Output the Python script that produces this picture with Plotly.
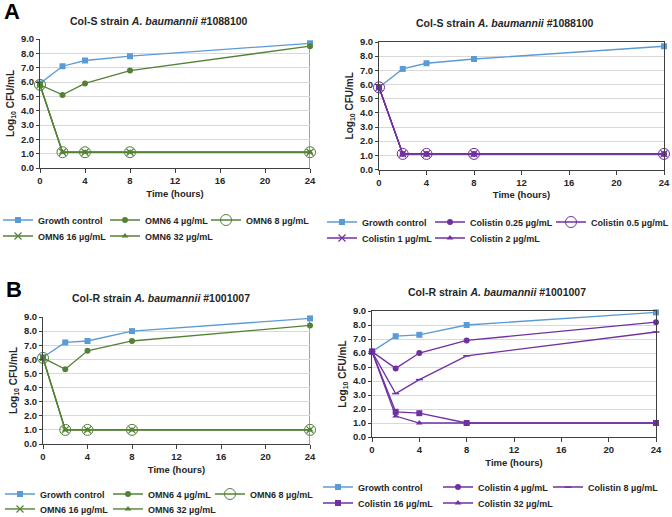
import plotly.graph_objects as go

# sampling times (hours)
time_h = [0, 2, 4, 8, 24]

# Col-S strain #1088100, OMN6 panel
gc_s_omn = [5.9, 7.1, 7.5, 7.8, 8.7]
omn6_s_4 = [5.8, 5.1, 5.9, 6.8, 8.5]
omn6_s_8 = [5.8, 1.1, 1.1, 1.1, 1.1]
omn6_s_16 = [5.8, 1.1, 1.1, 1.1, 1.1]
omn6_s_32 = [5.8, 1.1, 1.1, 1.1, 1.1]

# Col-S strain #1088100, colistin panel
gc_s_col = [5.8, 7.1, 7.5, 7.8, 8.7]
col_s_025 = [5.8, 1.1, 1.1, 1.1, 1.1]
col_s_05 = [5.8, 1.1, 1.1, 1.1, 1.1]
col_s_1 = [5.8, 1.1, 1.1, 1.1, 1.1]
col_s_2 = [5.8, 1.1, 1.1, 1.1, 1.1]

# Col-R strain #1001007, OMN6 panel
gc_r_omn = [6.15, 7.2, 7.3, 8.0, 8.9]
omn6_r_4 = [6.1, 5.3, 6.6, 7.3, 8.4]
omn6_r_8 = [6.1, 1.0, 1.0, 1.0, 1.0]
omn6_r_16 = [6.1, 1.0, 1.0, 1.0, 1.0]
omn6_r_32 = [6.1, 1.0, 1.0, 1.0, 1.0]

# Col-R strain #1001007, colistin panel
gc_r_col = [6.1, 7.2, 7.3, 8.0, 8.9]
col_r_4 = [6.1, 4.9, 6.0, 6.9, 8.2]
col_r_8 = [6.1, 3.1, 4.1, 5.8, 7.5]
col_r_16 = [6.1, 1.8, 1.7, 1.0, 1.0]
col_r_32 = [6.1, 1.5, 1.0, 1.0, 1.0]

omn6_names = ["Growth control", "OMN6 4 µg/mL", "OMN6 8 µg/mL", "OMN6 16 µg/mL", "OMN6 32 µg/mL"]
col_s_names = ["Growth control", "Colistin 0.25 µg/mL", "Colistin 0.5 µg/mL",
               "Colistin 1 µg/mL", "Colistin 2 µg/mL"]
col_r_names = ["Growth control", "Colistin 4 µg/mL", "Colistin 8 µg/mL",
               "Colistin 16 µg/mL", "Colistin 32 µg/mL"]
y_ticks = [0, 1, 2, 3, 4, 5, 6, 7, 8, 9]
x_ticks = [0, 4, 8, 12, 16, 20, 24]

W, H = 672, 517
FONT = "Liberation Sans, Arial, sans-serif"
TXT = "#262626"
BLUE = "#5B9BD5"
GREEN = "#548235"
PURPLE = "#7030A0"
AXIS = "#404040"
GRID = "#D9D9D9"

MARKERS = {
    "square": dict(symbol="square", size=6),
    "circle": dict(symbol="circle", size=6),
    "ocircle": dict(symbol="circle-open", size=11, line=dict(width=1)),
    "x": dict(symbol="x-thin-open", size=7, line=dict(width=1.2)),
    "tri": dict(symbol="triangle-up", size=6),
    "dash": dict(symbol="line-ew-open", size=5, line=dict(width=1.5)),
}

# panel boxes in px: x range, y range (9.0 -> 0.0), title and legend positions
panels = [
    dict(series=[gc_s_omn, omn6_s_4, omn6_s_8, omn6_s_16, omn6_s_32], names=omn6_names,
         color=GREEN, marks=["square", "circle", "ocircle", "x", "tri"],
         px=(40, 310), py=(39, 168), box=False,
         title="Col-S strain <i>A. baumannii</i> #1088100", tpos=(159, 21),
         cols=[38, 145, 246], rows=[220, 236]),
    dict(series=[gc_s_col, col_s_025, col_s_05, col_s_1, col_s_2], names=col_s_names,
         color=PURPLE, marks=["square", "circle", "ocircle", "x", "tri"],
         px=(379, 664), py=(42, 169.5), box=True,
         title="Col-S strain <i>A. baumannii</i> #1088100", tpos=(505, 23),
         cols=[362, 470, 591], rows=[222, 238]),
    dict(series=[gc_r_omn, omn6_r_4, omn6_r_8, omn6_r_16, omn6_r_32], names=omn6_names,
         color=GREEN, marks=["square", "circle", "ocircle", "x", "tri"],
         px=(43, 310), py=(317, 444), box=False,
         title="Col-R strain <i>A. baumannii</i> #1001007", tpos=(161, 298),
         cols=[40, 148, 250], rows=[494, 509]),
    dict(series=[gc_r_col, col_r_4, col_r_8, col_r_16, col_r_32], names=col_r_names,
         color=PURPLE, marks=["square", "circle", "dash", "square", "tri"],
         px=(372, 656), py=(311, 437), box=True,
         title="Col-R strain <i>A. baumannii</i> #1001007", tpos=(497, 292),
         cols=[358, 478, 588], rows=[487, 503]),
]


def fx(p):
    return p / W


def fy(p):
    return 1 - p / H


fig = go.Figure()
layout = dict(
    width=W, height=H,
    margin=dict(l=0, r=0, t=0, b=0, autoexpand=False),
    paper_bgcolor="white", plot_bgcolor="white",
    font=dict(family=FONT, color=TXT, size=9.5, weight="bold"),
    showlegend=True,
    annotations=[], shapes=[],
)

k = 0
for i, p in enumerate(panels):
    sfx = "" if i == 0 else str(i + 1)
    xa, ya = "x" + sfx, "y" + sfx
    for j, (vals, name) in enumerate(zip(p["series"], p["names"])):
        c = BLUE if j == 0 else p["color"]
        mk = dict(MARKERS[p["marks"][j]], color=c)
        lg = "legend" if k == 0 else "legend%d" % (k + 1)
        fig.add_trace(go.Scatter(
            x=time_h, y=vals, name=name, mode="lines+markers",
            line=dict(color=c, width=1.3), marker=mk,
            xaxis=xa, yaxis=ya, cliponaxis=False, legend=lg,
        ))
        row = 0 if j < 3 else 1
        col = j if j < 3 else j - 3
        layout[lg] = dict(
            x=fx(p["cols"][col] - 40), y=fy(p["rows"][row]),
            xanchor="left", yanchor="middle", orientation="h",
            bgcolor="rgba(0,0,0,0)", borderwidth=0,
            font=dict(family=FONT, size=9, color=TXT, weight="bold"),
        )
        k += 1

    layout["xaxis" + sfx] = dict(
        domain=[fx(p["px"][0]), fx(p["px"][1])], anchor=ya,
        range=[0, 24], tickmode="array", tickvals=x_ticks,
        showgrid=False, zeroline=False, ticklabeloverflow="allow",
        showline=True, linecolor=AXIS, linewidth=1, mirror=p["box"],
        ticks="outside", ticklen=4, tickcolor=AXIS,
        tickfont=dict(size=9.5, color=TXT, weight="bold"),
        title=dict(text="Time (hours)", font=dict(size=9.5, color=TXT, weight="bold"),
                   standoff=4),
    )
    layout["yaxis" + sfx] = dict(
        domain=[fy(p["py"][1]), fy(p["py"][0])], anchor=xa,
        range=[0, 9.0005], tickmode="array", tickvals=y_ticks,
        ticktext=["%.1f" % v for v in y_ticks], ticklabeloverflow="allow",
        showgrid=True, gridcolor=GRID, gridwidth=1, zeroline=False,
        showline=True, linecolor=AXIS, linewidth=1, mirror=p["box"],
        ticks="outside", ticklen=3, tickcolor=AXIS,
        tickfont=dict(size=9.5, color=TXT, weight="bold"),
        title=dict(text="Log<sub>10</sub> CFU/mL", font=dict(size=10, color=TXT, weight="bold"),
                   standoff=4),
    )
    if not p["box"]:
        top = max(s[-1] for s in p["series"])
        layout["shapes"].append(dict(
            type="line", xref=xa, yref=ya, x0=time_h[-1], x1=time_h[-1], y0=0, y1=top,
            line=dict(color=AXIS, width=1), layer="below",
        ))
    layout["annotations"].append(dict(
        text=p["title"], xref="paper", yref="paper",
        x=fx(p["tpos"][0]), y=fy(p["tpos"][1]), xanchor="center", yanchor="middle",
        showarrow=False, font=dict(size=10.5, color=TXT, weight="bold"),
    ))

for letter, (lx, ly) in [("A", (2, 11)), ("B", (4, 289))]:
    layout["annotations"].append(dict(
        text=letter, xref="paper", yref="paper", x=fx(lx), y=fy(ly),
        xanchor="left", yanchor="middle", showarrow=False,
        font=dict(size=22, color="black", weight="bold"),
    ))

fig.update_layout(**layout)
# drop the default 8px page margin so the figure fills the window
fig.write_html("out.html", config={"displayModeBar": False, "responsive": False},
               post_script="document.body.style.margin='0';")
